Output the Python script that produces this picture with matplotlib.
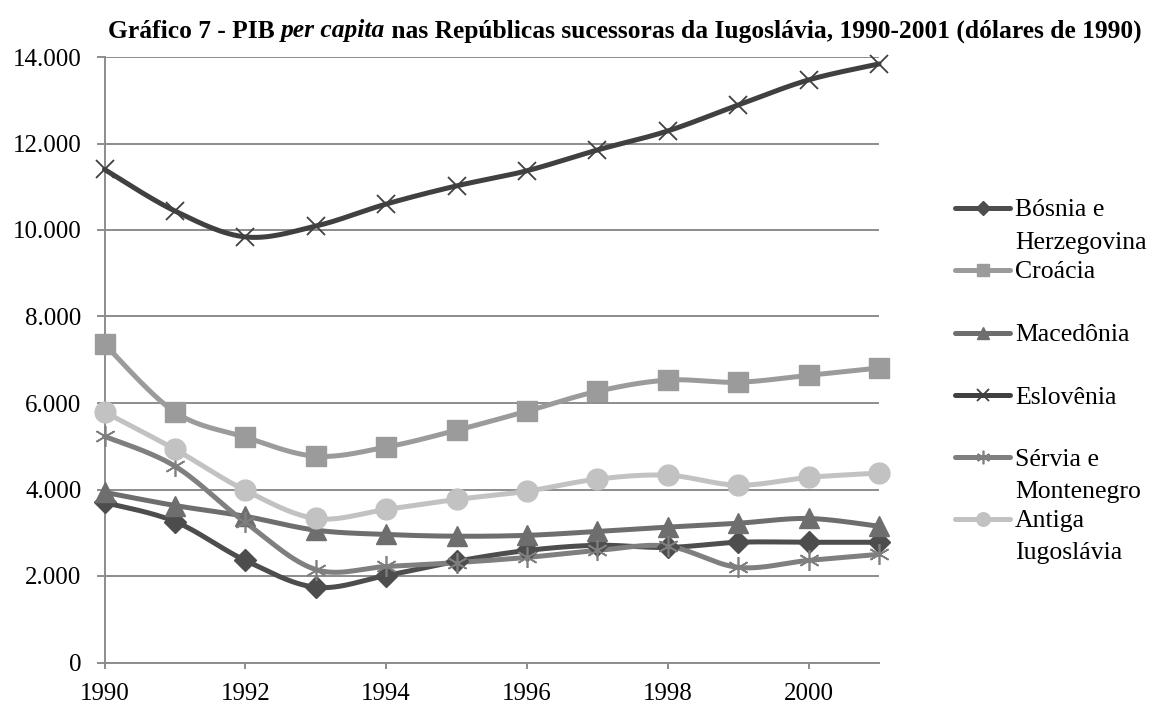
import numpy as np
import matplotlib
matplotlib.use("Agg")
import matplotlib.pyplot as plt
from matplotlib.lines import Line2D
from matplotlib.ticker import FuncFormatter

years = list(range(1990, 2002))

bosnia = [3700, 3260, 2360, 1740, 2010, 2340, 2590, 2710, 2660, 2780, 2780, 2780]
croacia = [7360, 5790, 5210, 4770, 4980, 5370, 5810, 6270, 6530, 6480, 6640, 6810]
macedonia = [3935, 3630, 3380, 3060, 2960, 2920, 2940, 3030, 3130, 3220, 3330, 3150]
eslovenia = [11400, 10440, 9840, 10090, 10600, 11020, 11370, 11850, 12290, 12890, 13470, 13840]
servia = [5230, 4540, 3240, 2150, 2220, 2310, 2430, 2590, 2690, 2200, 2360, 2500]
antiga = [5790, 4930, 3980, 3330, 3540, 3770, 3960, 4240, 4330, 4100, 4280, 4380]

labels = ["Bósnia e\nHerzegovina", "Croácia", "Macedônia", "Eslovênia",
          "Sérvia e\nMontenegro", "Antiga\nIugoslávia"]
series = [bosnia, croacia, macedonia, eslovenia, servia, antiga]

styles = [
    dict(color="#4d4d4d", marker="D", ms=11, mfc="#4d4d4d", mec="#4d4d4d", mew=1),
    dict(color="#9b9b9b", marker="s", ms=14, mfc="#9b9b9b", mec="#9b9b9b", mew=1),
    dict(color="#6e6e6e", marker="^", ms=14, mfc="#6e6e6e", mec="#6e6e6e", mew=1),
    dict(color="#404040", marker="x", ms=13, mfc="none", mec="#404040", mew=1.3),
    dict(color="#7f7f7f", marker=(6, 2, 0), ms=15, mfc="none", mec="#7f7f7f", mew=1.2),
    dict(color="#c2c2c2", marker="o", ms=15, mfc="#c2c2c2", mec="#c2c2c2", mew=1),
]

plt.rcParams["font.family"] = ["Liberation Serif", "DejaVu Serif"]

W, H = 1152, 706


def smooth(x, y, n=30):
    """Bezier smoothing through every point (Catmull-Rom style control points)."""
    x = np.asarray(x, float)
    y = np.asarray(y, float)
    px = np.concatenate([[x[0]], x, [x[-1]]])
    py = np.concatenate([[y[0]], y, [y[-1]]])
    xs, ys = [], []
    t = np.linspace(0, 1, n)
    for i in range(1, len(px) - 2):
        p0 = np.array([px[i], py[i]])
        p3 = np.array([px[i + 1], py[i + 1]])
        c1 = p0 + (np.array([px[i + 1], py[i + 1]]) - np.array([px[i - 1], py[i - 1]])) / 6
        c2 = p3 - (np.array([px[i + 2], py[i + 2]]) - np.array([px[i], py[i]])) / 6
        b = ((1 - t) ** 3)[:, None] * p0 + (3 * (1 - t) ** 2 * t)[:, None] * c1 \
            + (3 * (1 - t) * t ** 2)[:, None] * c2 + (t ** 3)[:, None] * p3
        xs.append(b[:, 0])
        ys.append(b[:, 1])
    return np.concatenate(xs), np.concatenate(ys)


fig = plt.figure(figsize=(W / 100, H / 100), dpi=100)
ax = fig.add_axes([104.5 / W, 1 - 662.5 / H, (879 - 104.5) / W, (662.5 - 57) / H])

for vals, st in zip(series, styles):
    sx, sy = smooth(years, vals)
    ax.plot(sx, sy, color=st["color"], lw=3.6, solid_capstyle="round", zorder=3, clip_on=False)
    ax.plot(years, vals, ls="none", marker=st["marker"], ms=st["ms"],
            mfc=st["mfc"], mec=st["mec"], mew=st["mew"], zorder=4, clip_on=False)

ax.set_xlim(1990, 2001)
ax.set_ylim(0, 14000)
ax.set_xticks([1990, 1992, 1994, 1996, 1998, 2000])
ax.set_yticks(range(0, 14001, 2000))
ax.yaxis.set_major_formatter(FuncFormatter(lambda v, p: f"{int(v):,}".replace(",", ".")))
ax.grid(axis="y", color="#8c8c8c", lw=1.4, zorder=1)
ax.set_axisbelow(True)
for s in ["top", "right"]:
    ax.spines[s].set_visible(False)
for s in ["left", "bottom"]:
    ax.spines[s].set_color("#8c8c8c")
    ax.spines[s].set_linewidth(1.4)
ax.tick_params(axis="both", colors="#8c8c8c", labelcolor="black", labelsize=18,
               width=1.4, direction="out")
ax.tick_params(axis="y", length=5.5, pad=11)
ax.tick_params(axis="x", length=4.5, pad=10.5)

# Title built from three runs so the middle one can be italic
renderer = fig.canvas.get_renderer()
parts = [("Gráfico 7 - PIB ", "normal"), ("per capita", "italic"),
         (" nas Repúblicas sucessoras da Iugoslávia, 1990-2001 (dólares de 1990)", "normal")]
x_px = 108
y_title = 1 - 31 / H
for txt, style in parts:
    t = fig.text(x_px / W, y_title, txt, ha="left", va="center", fontsize=18.4,
                 fontweight="bold", fontstyle=style)
    bb = t.get_window_extent(renderer)
    x_px += bb.width

# Legend drawn on the figure, one row per series
ys_leg = [208, 270, 333, 395, 457, 519]
for lab, st, yp in zip(labels, styles, ys_leg):
    yf = 1 - yp / H
    fig.add_artist(Line2D([955 / W, 1010 / W], [yf, yf], color=st["color"], lw=3.6,
                          solid_capstyle="round"))
    fig.add_artist(Line2D([982.5 / W], [yf], ls="none", marker=st["marker"], ms=st["ms"] * 0.65,
                          mfc=st["mfc"], mec=st["mec"], mew=st["mew"]))
    for k, line in enumerate(lab.split("\n")):
        fig.text(1015 / W, yf - k * 32 / H, line, ha="left", va="center_baseline", fontsize=18.5)

fig.savefig("out.png", dpi=100)
